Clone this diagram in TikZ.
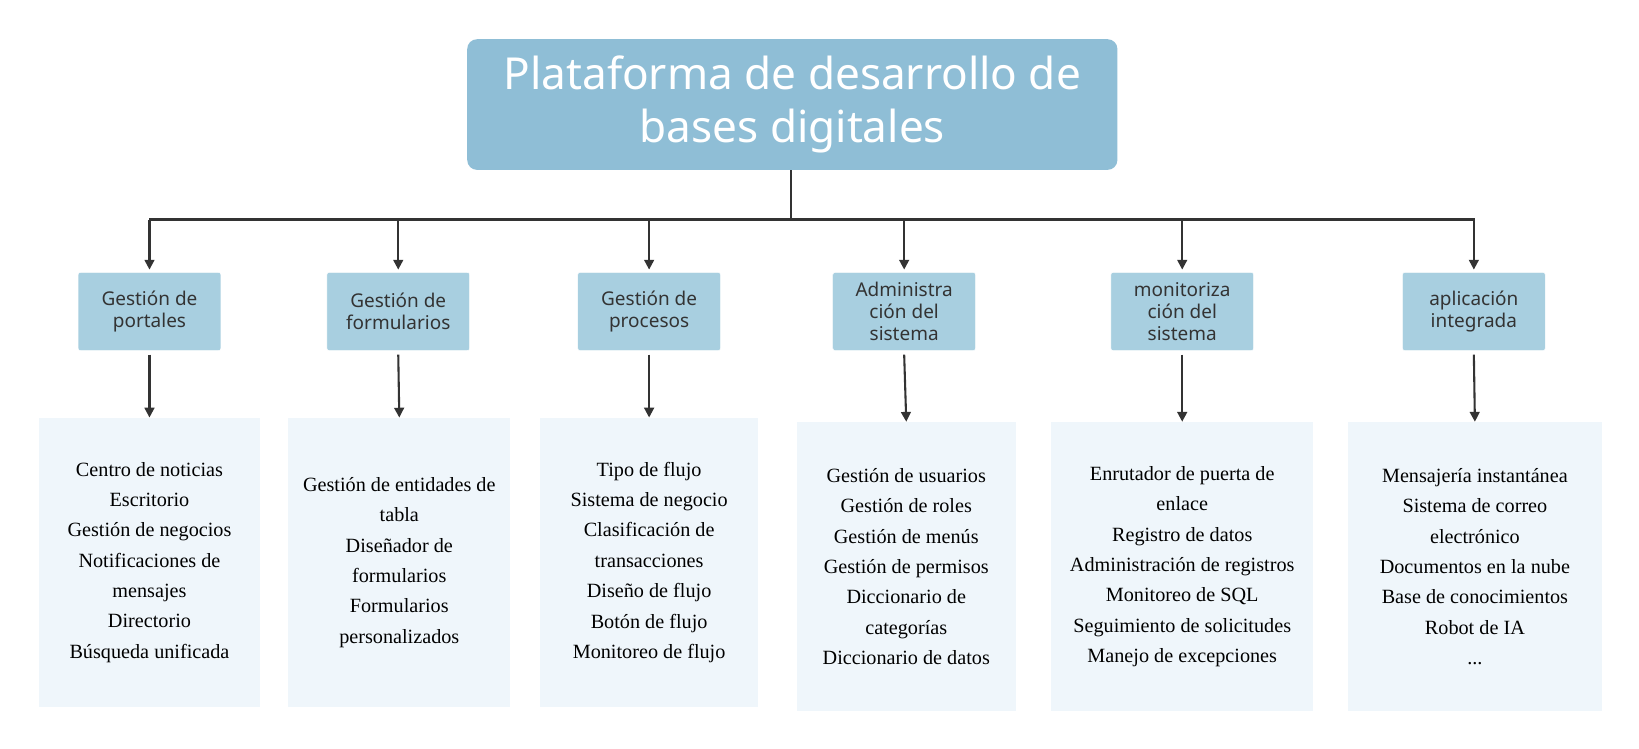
\documentclass[tikz,border=0pt]{standalone}
\usepackage{fontspec}
\setmainfont{Liberation Serif}
\newfontfamily\headfont{Noto Sans}
\usetikzlibrary{arrows.meta}
\definecolor{titlefill}{HTML}{8FBED6}
\definecolor{catfill}{HTML}{A8CFE0}
\definecolor{listfill}{HTML}{EFF6FB}
\definecolor{linegray}{HTML}{333333}
\tikzset{
  titlebox/.style={fill=titlefill,rounded corners=8pt,text=white,align=center,
    font=\headfont\fontsize{36}{43}\selectfont,minimum width=18.66cm,minimum height=3.75cm},
  catbox/.style={fill=catfill,draw=white,rounded corners=2pt,text=linegray,align=center,
    font=\headfont\fontsize{15.5}{18}\selectfont,minimum width=4.1cm,minimum height=2.25cm,inner sep=1pt},
  listbox/.style={fill=listfill,align=center,text=black,
    font=\fontsize{16.5}{24.8}\selectfont,minimum height=8.3cm,inner sep=1pt},
  conn/.style={linegray,line width=1.7pt},
  arr/.style={conn,-{Triangle[length=8pt,width=8pt]}}
}
\begin{document}
\begin{tikzpicture}[x=0.03cm,y=-0.03cm]
	\useasboundingbox (0,0) rectangle (1568,716);
	\node[titlebox] (title) at (758,100) {Plataforma de desarrollo de\\bases digitales};
	
	\node[catbox] (c1) at (143,298) {Gestión de\\portales};
	\node[catbox] (c2) at (381,298) {Gestión de\\formularios};
	\node[catbox] (c3) at (621,298) {Gestión de\\procesos};
	\node[catbox] (c4) at (865,298) {Administra\\ción del\\sistema};
	\node[catbox] (c5) at (1131,298) {monitoriza\\ción del\\sistema};
	\node[catbox] (c6) at (1410,298) {aplicación\\integrada};
	
	\node[listbox,minimum width=6.33cm] (l1) at (143,538) {Centro de noticias\\Escritorio\\Gestión de negocios\\Notificaciones de\\mensajes\\Directorio\\Búsqueda unificada};
	\node[listbox,minimum width=6.36cm] (l2) at (382,538) {Gestión de entidades de\\tabla\\Diseñador de\\formularios\\Formularios\\personalizados};
	\node[listbox,minimum width=6.24cm] (l3) at (621,538) {Tipo de flujo\\Sistema de negocio\\Clasificación de\\transacciones\\Diseño de flujo\\Botón de flujo\\Monitoreo de flujo};
	\node[listbox,minimum width=6.3cm] (l4) at (867,542) {Gestión de usuarios\\Gestión de roles\\Gestión de menús\\Gestión de permisos\\Diccionario de\\categorías\\Diccionario de datos};
	\node[listbox,minimum width=7.53cm] (l5) at (1131,542) {Enrutador de puerta de\\enlace\\Registro de datos\\Administración de registros\\Monitoreo de SQL\\Seguimiento de solicitudes\\Manejo de excepciones};
	\node[listbox,minimum width=7.29cm] (l6) at (1411,542) {Mensajería instantánea\\Sistema de correo\\electrónico\\Documentos en la nube\\Base de conocimientos\\Robot de IA\\...};
	
	\coordinate (hub) at (757,210);
	\draw[conn] (title.south -| hub) -- (hub);
	\draw[conn] (143,210) -- (1411,210);
	\foreach \i in {1,...,6} {
		\draw[arr] (c\i.north |- hub) -- ([yshift=2pt]c\i.north);
		\draw[arr] ([yshift=-3pt]c\i.south) -- (l\i.north);
	}
\end{tikzpicture}
\end{document}
